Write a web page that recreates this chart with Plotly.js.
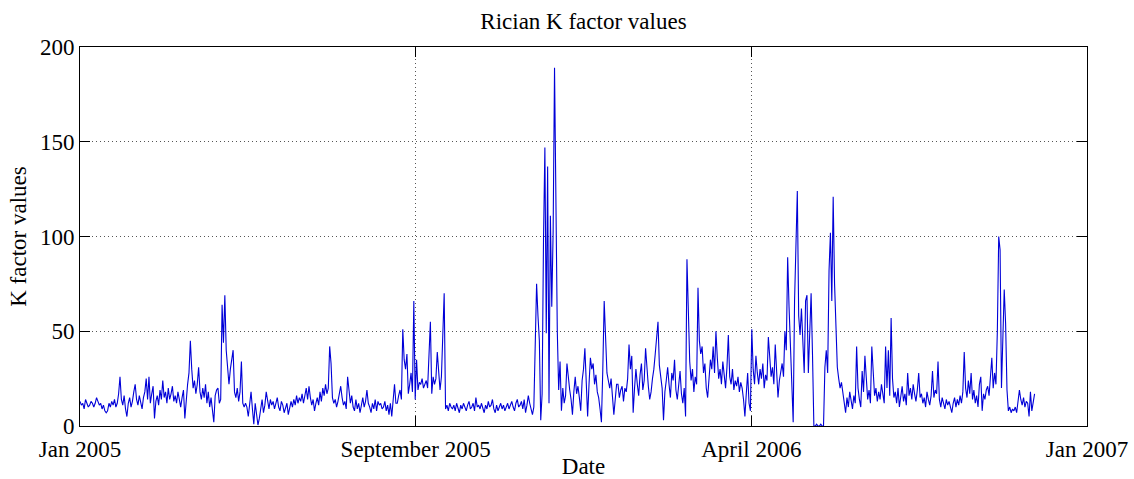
<!DOCTYPE html>
<html>
<head>
<meta charset="utf-8">
<script src="https://cdn.plot.ly/plotly-3.0.1.min.js"></script>
<style>
  html, body { margin: 0; padding: 0; background: #fff; }
  #chart { width: 1134px; height: 479px; }
</style>
</head>
<body>
<div id="chart"></div>
<script>
// Daily Rician K factor estimates, starting 1 January 2005 (one value per day).
const kFactor = [
  13, 11, 12, 9, 14, 12, 10, 11, 13, 12,
  10, 12, 15, 13, 11, 12, 9, 11, 8, 7,
  8, 12, 10, 13, 11, 14, 10, 12, 17, 26,
  14, 11, 16, 9, 5, 12, 15, 10, 13, 18,
  22, 14, 11, 16, 12, 9, 15, 18, 25, 14,
  26, 12, 17, 21, 4, 13, 16, 11, 19, 14,
  24, 15, 18, 12, 20, 14, 17, 21, 13, 16,
  12, 18, 14, 10, 15, 19, 4, 14, 22, 28,
  45, 30, 20, 24, 17, 22, 31, 18, 14, 20,
  15, 22, 12, 18, 10, 15, 8, 2, 16, 19,
  20, 12, 14, 64, 44, 69, 40, 28, 22, 30,
  36, 40, 18, 15, 20, 13, 18, 34, 12, 10,
  12, 10, 5, 13, 18, 9, 1, 12, 6, 0.5,
  4, 10, 14, 7, 11, 18, 12, 9, 14, 11,
  13, 9, 12, 15, 10, 8, 13, 11, 7, 10,
  12, 6, 9, 13, 10, 14, 11, 16, 12, 15,
  13, 17, 12, 16, 20, 14, 21, 15, 11, 14,
  8, 12, 15, 11, 18, 13, 20, 16, 22, 17,
  20, 42, 33, 15, 12, 14, 10, 13, 18, 21,
  15, 11, 13, 9, 26, 17, 12, 16, 10, 8,
  14, 9, 12, 7, 11, 15, 10, 13, 19, 12,
  10, 7, 12, 9, 14, 8, 13, 11, 12, 9,
  10, 13, 8, 11, 6, 12, 5, 14, 22, 12,
  12, 16, 19, 14, 51, 35, 30, 38, 17, 22,
  28, 18, 66, 14, 35, 19, 23, 22, 25, 20,
  22, 24, 20, 42, 55, 17, 26, 22, 25, 39,
  30, 19, 26, 44, 70, 9, 11, 8, 12, 10,
  9, 11, 8, 12, 10, 7, 11, 9, 12, 10,
  8, 11, 13, 9, 10, 12, 8, 15, 10, 11,
  9, 12, 10, 7, 11, 9, 13, 10, 11, 14,
  9, 7, 11, 8, 10, 12, 9, 11, 8, 10,
  12, 9, 11, 13, 10, 8, 12, 14, 10, 11,
  13, 9, 14, 7, 11, 16, 12, 8, 6, 10,
  37, 75, 58, 45, 3, 17, 98, 147, 49, 137,
  12, 111, 63, 103, 189, 119, 50, 19, 34, 8,
  20, 12, 16, 33, 25, 19, 14, 6, 18, 26,
  17, 21, 15, 8, 24, 30, 41, 18, 5, 22,
  36, 30, 33, 22, 27, 18, 15, 9, 2, 30,
  66, 47, 28, 24, 20, 25, 12, 6, 14, 22,
  22, 15, 19, 21, 13, 20, 18, 25, 43, 30,
  37, 7, 20, 30, 22, 16, 27, 33, 19, 24,
  41, 28, 21, 14, 18, 25, 30, 38, 45, 55,
  32, 26, 20, 3, 18, 24, 31, 22, 15, 28,
  24, 35, 19, 14, 22, 29, 17, 12, 20, 5,
  88, 57, 34, 24, 30, 18, 26, 22, 73, 45,
  38, 42, 28, 33, 20, 15, 25, 35, 30, 42,
  28, 50, 36, 25, 30, 22, 34, 27, 20, 31,
  48, 26, 22, 30, 19, 24, 21, 26, 18, 23,
  20, 14, 5, 17, 28, 12, 8, 51, 30, 22,
  37, 28, 22, 30, 25, 33, 20, 27, 24, 47,
  35, 26, 31, 22, 43, 30, 15, 24, 28, 33,
  26, 50, 40, 89, 63, 42, 30, 2, 66, 98,
  124, 58, 48, 62, 40, 28, 66, 69, 28, 45,
  70, 38, 0, 0, 1, 0, 0, 1, 0, 0,
  31, 40, 28, 82, 102, 66, 121, 75, 55, 31,
  25, 20, 23, 17, 12, 7, 15, 10, 18, 13,
  9, 16, 12, 42, 20, 14, 10, 29, 18, 37,
  22, 14, 19, 12, 42, 25, 16, 20, 13, 18,
  14, 22, 17, 12, 42, 20, 40, 16, 57, 25,
  15, 18, 12, 20, 10, 16, 21, 13, 17, 11,
  28, 16, 20, 14, 22, 17, 13, 19, 28, 15,
  17, 12, 15, 10, 18, 14, 11, 16, 29, 15,
  19, 17, 34, 14, 10, 15, 12, 9, 14, 11,
  13, 9, 7, 12, 15, 10, 14, 11, 16, 12,
  18, 39, 20, 15, 24, 17, 28, 14, 19, 12,
  16, 10, 22, 26, 8, 17, 14, 19, 21, 16,
  24, 36, 20, 28, 22, 50, 100, 93, 20, 49,
  72, 54, 19, 8, 10, 7, 9, 8, 10, 7,
  12, 19, 14, 11, 15, 10, 13, 12, 5, 18,
  8, 12, 17
];

// Date axis: days since 1 Jan 2005, spanning two years with four evenly spaced ticks.
const axisDays = 730;
const dateTickLabels = ['Jan 2005', 'September 2005', 'April 2006', 'Jan 2007'];
const kTickValues = [0, 50, 100, 150, 200];

const dayIndex = kFactor.map((_, i) => i);
const dateTickPositions = dateTickLabels.map((_, i) => i * axisDays / (dateTickLabels.length - 1));

const serif = '"Liberation Serif", "Times New Roman", Times, serif';
const textFont = { family: serif, size: 23, color: '#000' };

const axisCommon = {
  showline: true,
  linecolor: '#000',
  linewidth: 1,
  mirror: 'ticks',
  ticks: 'inside',
  ticklen: 10,
  tickwidth: 1,
  tickcolor: '#000',
  showgrid: true,
  gridcolor: '#555',
  gridwidth: 1,
  griddash: '1px,3px',
  zeroline: false,
  automargin: false,
  tickfont: textFont
};

const trace = {
  type: 'scatter',
  mode: 'lines',
  x: dayIndex,
  y: kFactor,
  line: { color: '#0000d8', width: 1.1 },
  hoverinfo: 'skip'
};

const layout = {
  width: 1134,
  height: 479,
  paper_bgcolor: '#fff',
  plot_bgcolor: '#fff',
  showlegend: false,
  font: { family: serif, size: 23, color: '#000' },
  margin: { l: 80, r: 47, t: 47, b: 53, pad: 0 },
  title: {
    text: 'Rician K factor values',
    font: textFont,
    x: 0.5145,
    xanchor: 'center',
    y: 1 - 21 / 479,
    yref: 'container',
    yanchor: 'middle'
  },
  xaxis: Object.assign({}, axisCommon, {
    range: [0, axisDays],
    tickmode: 'array',
    tickvals: dateTickPositions,
    ticktext: dateTickLabels,
    ticklabelstandoff: 2,
    title: { text: 'Date', font: textFont, standoff: 2 }
  }),
  yaxis: Object.assign({}, axisCommon, {
    range: [0, 200],
    tickmode: 'array',
    tickvals: kTickValues,
    ticktext: kTickValues.map(String),
    title: { text: 'K factor values', font: textFont, standoff: 6 }
  })
};

Plotly.newPlot('chart', [trace], layout, { staticPlot: true, displayModeBar: false });
</script>
</body>
</html>
